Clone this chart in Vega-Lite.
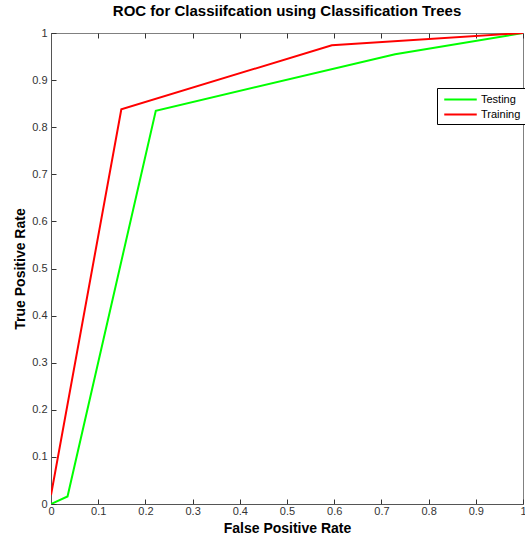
{
  "$schema": "https://vega.github.io/schema/vega-lite/v6.json",
  "width": 472,
  "height": 471,
  "autosize": {"type": "none"},
  "padding": {"left": 51, "top": 33, "right": 2, "bottom": 33},
  "background": "white",
  "title": {"text": "ROC for Classiifcation using Classification Trees", "fontSize": 15, "fontWeight": "bold", "font": "Liberation Sans", "color": "black", "offset": 8, "anchor": "middle"},
  "config": {
    "view": {"stroke": "#808080", "strokeWidth": 1},
    "axis": {"labelFont": "Liberation Sans", "titleFont": "Liberation Sans", "labelFontSize": 11, "labelColor": "#333333", "titleFontSize": 14, "titleFontWeight": "bold", "titleColor": "black", "domainColor": "#555555", "tickColor": "#333333", "grid": false}
  },
  "data": {"values": [
    {"series": "Testing", "fpr": 0, "tpr": 0, "o": 0},
    {"series": "Testing", "fpr": 0.035, "tpr": 0.016, "o": 1},
    {"series": "Testing", "fpr": 0.222, "tpr": 0.835, "o": 2},
    {"series": "Testing", "fpr": 0.729, "tpr": 0.955, "o": 3},
    {"series": "Testing", "fpr": 1, "tpr": 1, "o": 4},
    {"series": "Training", "fpr": 0, "tpr": 0.019, "o": 0},
    {"series": "Training", "fpr": 0.149, "tpr": 0.838, "o": 1},
    {"series": "Training", "fpr": 0.595, "tpr": 0.974, "o": 2},
    {"series": "Training", "fpr": 1, "tpr": 1, "o": 3}
  ]},
  "layer": [
    {
      "mark": {"type": "line", "strokeWidth": 2, "clip": true},
      "encoding": {
        "x": {"field": "fpr", "type": "quantitative", "scale": {"domain": [0, 1], "nice": false},
              "axis": {"title": "False Positive Rate", "values": [0,0.1,0.2,0.3,0.4,0.5,0.6,0.7,0.8,0.9,1], "format": "~g", "tickSize": -5, "labelPadding": 6, "titlePadding": 5, "labelFlush": false}},
        "y": {"field": "tpr", "type": "quantitative", "scale": {"domain": [0, 1], "nice": false},
              "axis": {"title": "True Positive Rate", "values": [0,0.1,0.2,0.3,0.4,0.5,0.6,0.7,0.8,0.9,1], "format": "~g", "tickSize": -5, "labelPadding": 9, "titlePadding": 4, "labelFlush": false}},
        "color": {"field": "series", "type": "nominal", "scale": {"domain": ["Testing", "Training"], "range": ["#00ff00", "#ff0000"]},
                  "legend": {"title": null, "orient": "none", "legendX": 386, "legendY": 55, "symbolType": "M-2.5,0H2.5", "symbolSize": 169, "symbolStrokeWidth": 2, "symbolOffset": 12, "strokeColor": "black", "fillColor": "white", "padding": 4, "rowPadding": 2, "labelFont": "Liberation Sans", "labelFontSize": 11, "labelColor": "black", "labelOffset": 13}},
        "order": {"field": "o", "type": "quantitative"}
      }
    },
    {
      "mark": {"type": "point", "opacity": 0},
      "encoding": {
        "x": {"field": "fpr", "type": "quantitative", "scale": {"domain": [0, 1], "nice": false},
              "axis": {"orient": "top", "title": null, "labels": false, "values": [0,0.1,0.2,0.3,0.4,0.5,0.6,0.7,0.8,0.9,1], "tickSize": -5, "domain": false}}
      }
    }
  ],
  "resolve": {"axis": {"x": "independent"}}
}
